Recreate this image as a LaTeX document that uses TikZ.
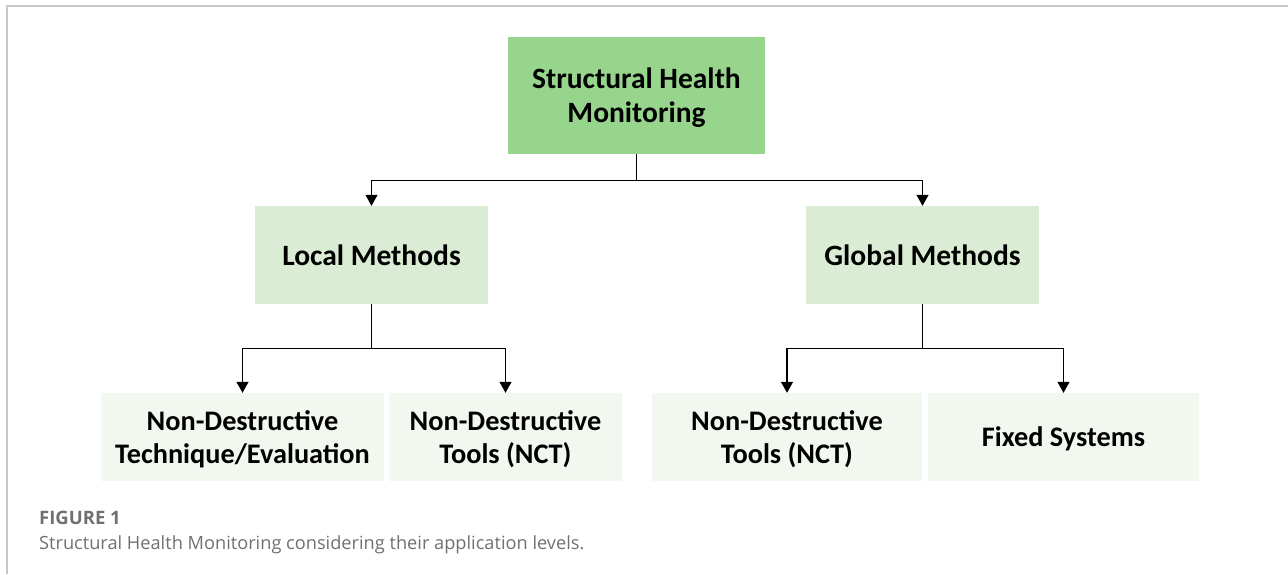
\documentclass[tikz,border=0pt]{standalone}
\usepackage{fontspec}
\setmainfont{Carlito}
\newfontfamily\capfont{Open Sans}
\usetikzlibrary{arrows.meta, positioning}

\definecolor{shmgreen}{HTML}{97D58D}
\definecolor{midgreen}{HTML}{DAEDD4}
\definecolor{lowgreen}{HTML}{F2F8F0}
\definecolor{capgray}{HTML}{707070}

\begin{document}
\begin{tikzpicture}[
    x=1pt, y=-1pt,
    % Kästen der drei Ebenen
    box/.style={inner sep=0pt, align=center, text depth=0pt, font=\bfseries\fontsize{28.3}{33}\selectfont},
    toplevel/.style={box, fill=shmgreen, minimum width=257, minimum height=117, font=\bfseries\fontsize{29.5}{34}\selectfont},
    midlevel/.style={box, fill=midgreen, minimum width=233, minimum height=98, font=\bfseries\fontsize{29.5}{34}\selectfont},
    lowlevel/.style={box, fill=lowgreen, minimum height=88},
    % Verbindungslinien mit Pfeil
    link/.style={line width=1.2pt, -{Triangle[width=12pt,length=11pt]}},
    % Bildunterschrift
    caption/.style={anchor=base west, inner sep=0pt, text=capgray, font=\capfont\fontsize{18.2}{20}\selectfont}
]
\useasboundingbox (0,0) rectangle (1288,574);

% Rahmen oben und links
\draw[black!22, line width=1.5pt] (7,574) -- (7,6) -- (1288,6);

% --- OBERSTE EBENE ---
\node[toplevel] (shm) at (636.5,95.5) {Structural Health\\Monitoring};

% --- MITTLERE EBENE ---
\node[midlevel] (local) at (371.5,255) {Local Methods};
\node[midlevel] (global) at (922.5,255) {Global Methods};

% --- UNTERSTE EBENE ---
\node[lowlevel, minimum width=283] (ndte) at (242.5,437) {Non-Destructive\\Technique/Evaluation};
\node[lowlevel, minimum width=233] (nctl) at (505.5,437) {Non-Destructive\\Tools (NCT)};
\node[lowlevel, minimum width=270] (nctg) at (787,437) {Non-Destructive\\Tools (NCT)};
\node[lowlevel, minimum width=271] (fixed) at (1063.5,437) {Fixed Systems};

% Verbindungen
\draw[link] (shm.south) -- ++(0,26) -| (local.north);
\draw[link] (shm.south) -- ++(0,26) -| (global.north);
\draw[link] (local.south) -- ++(0,44) -| (ndte.north);
\draw[link] (local.south) -- ++(0,44) -| (nctl.north);
\draw[link] (global.south) -- ++(0,44) -| (nctg.north);
\draw[link] (global.south) -- ++(0,44) -| (fixed.north);

% Bildunterschrift
\node[caption, font=\capfont\bfseries\fontsize{18.5}{20}\selectfont] (fig) at (39,524) {FIGURE 1};
\node[caption] (captext) at (39,549) {Structural Health Monitoring considering their application levels.};

\end{tikzpicture}
\end{document}
